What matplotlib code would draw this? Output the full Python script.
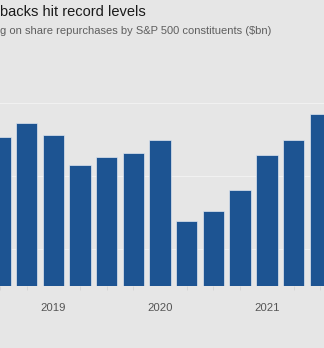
import matplotlib
matplotlib.use("Agg")
import matplotlib.pyplot as plt

quarters = ["2018 Q3", "2018 Q4", "2019 Q1", "2019 Q2", "2019 Q3", "2019 Q4",
            "2020 Q1", "2020 Q2", "2020 Q3", "2020 Q4", "2021 Q1", "2021 Q2", "2021 Q3"]
values = [203.8, 222.9, 205.8, 165.5, 175.9, 181.6, 199.0, 88.7, 101.8, 131.1, 178.1, 198.8, 234.6]
year_labels = ["2019", "2020", "2021"]
year_positions = ["2019 Q1", "2020 Q1", "2021 Q1"]
grid_values = [50, 150, 250]

title = "backs hit record levels"
subtitle = "g on share repurchases by S&P 500 constituents ($bn)"

bg = "#e6e6e6"
bar_color = "#1d5492"
font = ["Liberation Sans", "DejaVu Sans"]

fig = plt.figure(figsize=(3.24, 3.48), dpi=100, facecolor=bg)
ax = fig.add_axes([0, 0.1782, 1, 0.5478])
ax.set_facecolor(bg)

x = list(range(len(quarters)))
ax.bar(x, values, width=0.8, color=bar_color, edgecolor="#dfe6ef", linewidth=0.5, zorder=3)

ax.set_xlim(0.247, 12.142)
ax.set_ylim(0, 260)

ax.set_yticks(grid_values)
ax.yaxis.grid(True, color="#f1f1f1", linewidth=0.8, zorder=0)
ax.tick_params(axis="y", left=False, labelleft=False)

ax.set_xticks([quarters.index(q) for q in year_positions])
ax.set_xticklabels(year_labels, fontfamily=font, fontsize=8.2, color="#555555")
ax.set_xticks(x, minor=True)
ax.tick_params(axis="x", which="major", length=0, pad=12.5)
ax.tick_params(axis="x", which="minor", length=3, color="#d4d4d4", width=0.6)

for s in ax.spines.values():
    s.set_visible(False)

fig.text(0.5 / 324, 1 - 15.5 / 348, title, ha="left", va="baseline",
         fontfamily=font, fontsize=10.55, color="#1a1a1a")
fig.text(0.5 / 324, 1 - 34.5 / 348, subtitle, ha="left", va="baseline",
         fontfamily=font, fontsize=8.0, color="#5f5f5f")

fig.savefig("out.png", dpi=100, facecolor=bg)
